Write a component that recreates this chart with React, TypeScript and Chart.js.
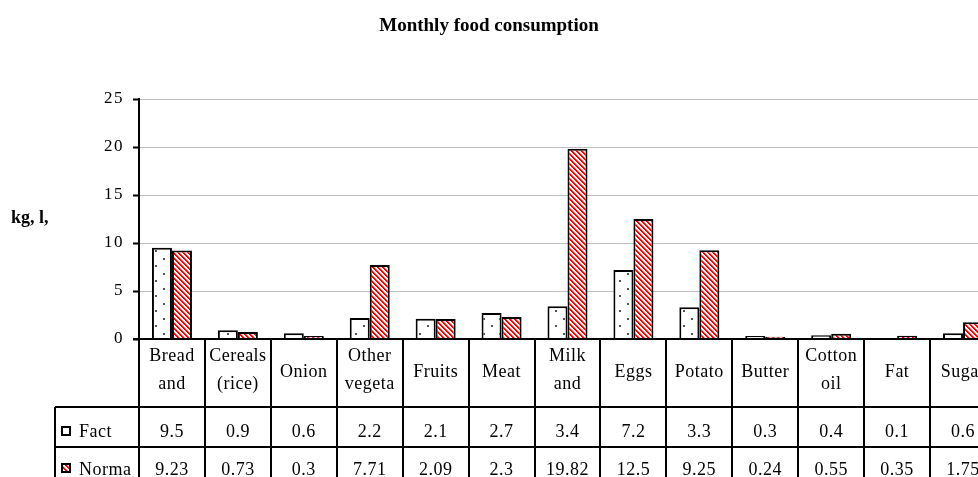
import React, { useEffect, useRef } from "react";
import { Chart, registerables } from "chart.js";

Chart.register(...registerables);

const chartTitle = "Monthly food consumption";
const yAxisLabel = "kg, l,";
const categoryLines: string[][] = [
  ["Bread", "and"],
  ["Cereals", "(rice)"],
  ["Onion"],
  ["Other", "vegeta"],
  ["Fruits"],
  ["Meat"],
  ["Milk", "and"],
  ["Eggs"],
  ["Potato"],
  ["Butter"],
  ["Cotton", "oil"],
  ["Fat"],
  ["Sugar"],
];
const seriesNames = ["Fact", "Norma"];
const factValues = [9.5, 0.9, 0.6, 2.2, 2.1, 2.7, 3.4, 7.2, 3.3, 0.3, 0.4, 0.1, 0.6];
const normaValues = [9.23, 0.73, 0.3, 7.71, 2.09, 2.3, 19.82, 12.5, 9.25, 0.24, 0.55, 0.35, 1.75];
const yMin = 0;
const yMax = 25;
const yStep = 5;

function makeDots(): CanvasPattern {
  const c = document.createElement("canvas");
  c.width = 16;
  c.height = 15;
  const g = c.getContext("2d")!;
  g.fillStyle = "#ffffff";
  g.fillRect(0, 0, 16, 15);
  g.fillStyle = "#555555";
  g.fillRect(3, 3, 2, 2);
  g.fillRect(11, 10, 2, 2);
  return g.createPattern(c, "repeat")!;
}

function makeHatch(): CanvasPattern {
  const s = 5;
  const c = document.createElement("canvas");
  c.width = s;
  c.height = s;
  const g = c.getContext("2d")!;
  const img = g.createImageData(s, s);
  for (let y = 0; y < s; y++) {
    for (let x = 0; x < s; x++) {
      const d = (((x - y) % s) + s) % s;
      const i = (y * s + x) * 4;
      let col = [255, 255, 255];
      if (d === 0 || d === 1) col = [255, 0, 0];
      else if (d === 2) col = [255, 140, 140];
      img.data[i] = col[0];
      img.data[i + 1] = col[1];
      img.data[i + 2] = col[2];
      img.data[i + 3] = 255;
    }
  }
  g.putImageData(img, 0, 0);
  return g.createPattern(c, "repeat")!;
}

export default function App() {
  const ref = useRef<HTMLCanvasElement | null>(null);

  useEffect(() => {
    if (!ref.current) return;
    const dots = makeDots();
    const hatch = makeHatch();
    const serif = '"Liberation Serif", "Times New Roman", serif';

    const tablePlugin = {
      id: "tablePlugin",
      beforeDraw(chart: any) {
        chart.ctx.letterSpacing = "1.5px";
      },
      afterDraw(chart: any) {
        const ctx: CanvasRenderingContext2D = chart.ctx;
        const { left, right, bottom } = chart.chartArea;
        const xs = chart.scales.x;
        const n = categoryLines.length;
        const cw = (right - left) / n;
        ctx.save();
        ctx.letterSpacing = "0px";

        // title
        ctx.fillStyle = "#000";
        ctx.font = `bold 19px ${serif}`;
        ctx.textAlign = "center";
        ctx.textBaseline = "alphabetic";
        ctx.fillText(chartTitle, 489, 31);

        // y-axis label
        ctx.font = `bold 18px ${serif}`;
        ctx.textAlign = "left";
        ctx.fillText(yAxisLabel, 11, 223);

        // baseline
        ctx.strokeStyle = "#000";
        ctx.lineWidth = 2;
        ctx.beginPath();
        ctx.moveTo(133, bottom);
        ctx.lineTo(right + 20, bottom);
        ctx.stroke();

        const headerBottom = 407;
        const factBottom = 447;
        const normaBottom = 487;
        const legendLeft = 55;

        // table lines
        ctx.beginPath();
        for (let i = 0; i <= n; i++) {
          const x = Math.round(xs.getPixelForValue(0) - cw / 2 + i * cw);
          ctx.moveTo(x, bottom);
          ctx.lineTo(x, normaBottom);
        }
        ctx.moveTo(legendLeft, headerBottom);
        ctx.lineTo(right + 20, headerBottom);
        ctx.moveTo(legendLeft, factBottom);
        ctx.lineTo(right + 20, factBottom);
        ctx.moveTo(legendLeft, headerBottom);
        ctx.lineTo(legendLeft, normaBottom);
        ctx.stroke();

        // header labels
        ctx.font = `18px ${serif}`;
        ctx.textAlign = "center";
        ctx.textBaseline = "middle";
        ctx.letterSpacing = "0.5px";
        for (let i = 0; i < n; i++) {
          const cx = xs.getPixelForValue(i);
          const lines = categoryLines[i];
          if (lines.length === 1) {
            ctx.fillText(lines[0], cx, 372);
          } else {
            ctx.fillText(lines[0], cx, 356);
            ctx.fillText(lines[1], cx, 384);
          }
          ctx.fillText(String(factValues[i]), cx, 432);
          ctx.fillText(String(normaValues[i]), cx, 470);
        }

        // legend keys
        ctx.textAlign = "left";
        ctx.lineWidth = 2;
        const keys = [
          { y: 426, fill: "#ffffff" as any, label: seriesNames[0], ty: 432 },
          { y: 463, fill: hatch as any, label: seriesNames[1], ty: 470 },
        ];
        for (const k of keys) {
          ctx.fillStyle = k.fill;
          ctx.fillRect(61, k.y, 10, 10);
          ctx.strokeRect(62, k.y + 1, 8, 8);
          ctx.fillStyle = "#000";
          ctx.fillText(k.label, 79, k.ty);
        }
        ctx.restore();
      },
    };

    const chart = new Chart(ref.current, {
      type: "bar",
      data: {
        labels: categoryLines.map((l) => l.join(" ")),
        datasets: [
          {
            label: seriesNames[0],
            data: factValues,
            backgroundColor: dots,
            borderColor: "#000",
            borderWidth: 2,
            barPercentage: 1,
            categoryPercentage: 0.607,
          },
          {
            label: seriesNames[1],
            data: normaValues,
            backgroundColor: hatch,
            borderColor: "#000",
            borderWidth: 2,
            barPercentage: 1,
            categoryPercentage: 0.607,
          },
        ],
      },
      options: {
        responsive: false,
        animation: false,
        devicePixelRatio: 1,
        layout: { padding: { left: 0, top: 99, right: 14, bottom: 138 } },
        plugins: {
          legend: { display: false },
          title: { display: false },
          tooltip: { enabled: false },
        },
        scales: {
          x: { display: false, offset: true },
          y: {
            min: yMin,
            max: yMax,
            ticks: {
              stepSize: yStep,
              color: "#000",
              font: { family: serif, size: 17 },
              padding: 9,
            },
            grid: {
              color: "#c0c0c0",
              lineWidth: 1,
              tickColor: "#000",
              tickLength: 6,
              tickWidth: 2,
            },
            border: { color: "#000", width: 2 },
            afterFit: (s: any) => {
              s.width = 139;
            },
          },
        },
      },
      plugins: [tablePlugin],
    });

    return () => chart.destroy();
  }, []);

  return (
    <div
      style={{
        position: "fixed",
        left: 0,
        top: 0,
        width: 978,
        height: 477,
        overflow: "hidden",
        background: "#fff",
      }}
    >
      <canvas ref={ref} width={1010} height={477} style={{ display: "block", width: 1010, height: 477 }} />
    </div>
  );
}
